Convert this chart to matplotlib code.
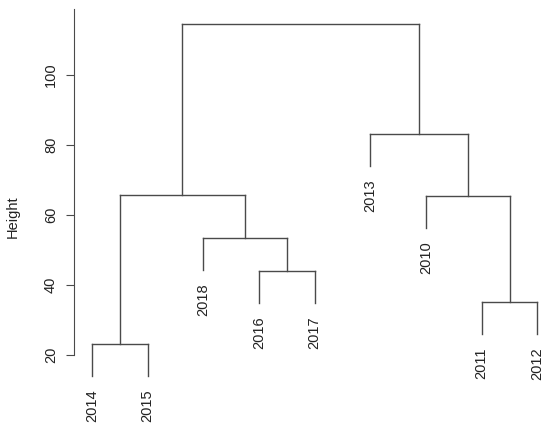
import matplotlib
matplotlib.use("Agg")
import matplotlib.pyplot as plt

# hclust style data: labels, merge table (negative = single leaf), merge heights
labels = ['2010', '2011', '2012', '2013', '2014', '2015', '2016', '2017', '2018']
merge = [(-5, -6), (-2, -3), (-7, -8), (-9, 3), (-1, 2), (1, 4), (-4, 5), (6, 7)]
heights = [23.1, 35.1, 44.1, 53.5, 65.4, 65.7, 83.1, 114.6]

plt.rcParams['font.family'] = ['Liberation Sans', 'DejaVu Sans']
LINE = '#4a4a4a'

# leaf order from walking the tree
def leaves(node):
    if node < 0:
        return [-node]
    a, b = merge[node - 1]
    return leaves(a) + leaves(b)

order = leaves(len(merge))
xpos = {}
for i, leaf in enumerate(order):
    xpos[-leaf] = i + 1
hang = 0.1 * (max(heights) - min(heights))

fig = plt.figure(figsize=(5.5, 4.33), dpi=100)
ax = fig.add_axes([74 / 550, 0, 1 - 74 / 550, 1])

ypix = lambda v: 355 - (v - 20) * 3.5
ax.set_ylim(-2.3, 20 + 355 / 3.5)
ax.set_xlim(0.68, 0.68 + 476 / 55.7)

for k, (a, b) in enumerate(merge):
    h = heights[k]
    node = k + 1
    xa, xb = xpos[a], xpos[b]
    xpos[node] = (xa + xb) / 2
    ax.plot([xa, xb], [h, h], color=LINE, lw=1)
    for c, xc in ((a, xa), (b, xb)):
        if c < 0:
            bottom = h - hang
            ax.plot([xc, xc], [h, bottom], color=LINE, lw=1)
            ax.annotate(labels[-c - 1], (xc, bottom), xytext=(0, -9.8),
                        textcoords='offset points', rotation=90,
                        ha='center', va='top', fontsize=10.5, color='#222222')
        else:
            ax.plot([xc, xc], [h, heights[c - 1]], color=LINE, lw=1)

for s in ['top', 'right', 'bottom']:
    ax.spines[s].set_visible(False)
ax.spines['left'].set_bounds(20, 118.9)
ax.spines['left'].set_color(LINE)
ax.set_xticks([])
ax.set_yticks([20, 40, 60, 80, 100])
ax.tick_params(axis='y', length=5.5, color=LINE, labelsize=10.5,
               labelrotation=90, pad=6, labelcolor='#222222')
for t in ax.get_yticklabels():
    t.set_va('center')
fig.text(12.7 / 550, 0.5, 'Height', rotation=90, ha='center', va='center',
         fontsize=10.5, color='#222222')

fig.savefig('out.png', dpi=100)
